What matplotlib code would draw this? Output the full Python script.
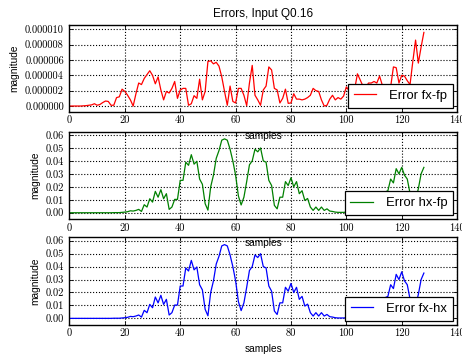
import numpy as np
import matplotlib
matplotlib.use('Agg')
import matplotlib.pyplot as plt
from matplotlib.ticker import FormatStrFormatter, MultipleLocator

# error values, one per sample (0..128)
err_fx_fp = [0, 0, 0, 0, 0, 0.02, 0.05, 0.1, 0.15, 0.3,
             0.1, 0.2, 0.45, 0.65, 0.6, 0.1, 0.1, 1.1, 1.2, 2.2,
             1.9, 1.4, 0.8, 0.0, 1.6, 3.0, 2.8, 3.6, 4.1, 4.6,
             4.0, 2.9, 3.8, 2.1, 0.8, 1.9, 1.7, 2.3, 3.2, 1.0,
             2.1, 2.3, 2.3, 0.1, 0.3, 1.35, 1.0, 3.5, 0.8, 1.9,
             5.8, 5.9, 5.5, 5.7, 5.2, 3.8, 1.9, 0.1, 2.6, 0.6,
             0.4, 2.3, 2.3, 1.4, 0.05, 3.0, 5.3, 1.4, 0.8, 0.1,
             2.1, 2.6, 5.1, 4.7, 2.3, 2.1, 0.4, 1.0, 2.2, 0.35,
             0.4, 1.6, 0.9, 0.9, 0.8, 0.9, 1.1, 1.4, 2.3, 2.0,
             1.9, 0.8, 0.0, 0.1, 0.9, 1.4, 0.8, 1.1, 0.9, 1.3,
             2.5, 2.0, 1.8, 2.2, 4.2, 3.4, 2.6, 2.4, 3.0, 3.0,
             3.2, 3.0, 3.9, 2.7, 1.5, 1.0, 2.5, 5.1, 5.0, 3.0,
             4.0, 3.9, 3.3, 2.8, 5.8, 8.6, 5.6, 7.7, 9.6]
err_fx_fp = [v * 1e-6 for v in err_fx_fp]

err_hx_fp = [0, 0, 0, 0, 0, 0, 0, 0, 0, 0,
             0, 0, 0, 0, 0, 0, 0.0001, 0.0001, 0.0001, 0.0003,
             0.0005, 0.0008, 0.0015, 0.0013, 0.0018, 0.0026, 0.001, 0.0062, 0.0044, 0.0108,
             0.0082, 0.0165, 0.012, 0.0178, 0.0108, 0.0147, 0.0026, 0.0044, 0.0103, 0.0103,
             0.025, 0.025, 0.039, 0.0366, 0.0448, 0.0375, 0.0397, 0.026, 0.022, 0.007,
             0.002, 0.020, 0.029, 0.042, 0.048, 0.056, 0.057, 0.056, 0.049, 0.040,
             0.029, 0.013, 0.006, 0.012, 0.024, 0.037, 0.040, 0.049, 0.047, 0.050,
             0.040, 0.039, 0.025, 0.021, 0.0057, 0.003, 0.012, 0.012, 0.024, 0.021,
             0.027, 0.020, 0.024, 0.0147, 0.017, 0.0095, 0.011, 0.0044, 0.0018, 0.0044,
             0.0018, 0.0044, 0.0018, 0.003, 0.0013, 0.001, 0.0005, 0.0003, 0.0003, 0.0003,
             0.0005, 0.001, 0.002, 0.003, 0.004, 0.006, 0.008, 0.010, 0.012, 0.013,
             0.012, 0.014, 0.015, 0.013, 0.016, 0.017, 0.026, 0.023, 0.034, 0.030,
             0.035, 0.029, 0.026, 0.015, 0.008, 0.010, 0.0185, 0.030, 0.035]

err_fx_hx = [0, 0, 0, 0, 0, 0, 0, 0, 0, 0,
             0, 0, 0, 0, 0, 0, 0.0001, 0.0001, 0.0001, 0.0003,
             0.0005, 0.0008, 0.0015, 0.0013, 0.0018, 0.0026, 0.001, 0.0062, 0.0044, 0.0108,
             0.0082, 0.0165, 0.012, 0.0178, 0.0108, 0.0147, 0.0026, 0.0044, 0.0103, 0.0103,
             0.025, 0.025, 0.039, 0.0366, 0.0448, 0.0375, 0.0397, 0.026, 0.022, 0.007,
             0.002, 0.020, 0.029, 0.042, 0.048, 0.056, 0.057, 0.056, 0.049, 0.040,
             0.029, 0.013, 0.006, 0.012, 0.024, 0.037, 0.040, 0.049, 0.047, 0.050,
             0.040, 0.039, 0.025, 0.021, 0.0057, 0.003, 0.012, 0.012, 0.024, 0.021,
             0.027, 0.020, 0.024, 0.0147, 0.017, 0.0095, 0.011, 0.0044, 0.0018, 0.0044,
             0.0018, 0.0044, 0.0018, 0.003, 0.0013, 0.001, 0.0005, 0.0003, 0.0003, 0.0003,
             0.0005, 0.001, 0.002, 0.003, 0.004, 0.006, 0.008, 0.010, 0.012, 0.013,
             0.012, 0.014, 0.015, 0.013, 0.016, 0.017, 0.026, 0.023, 0.034, 0.030,
             0.036, 0.029, 0.026, 0.015, 0.008, 0.010, 0.0185, 0.030, 0.035]

samples = np.arange(len(err_fx_fp))

series = [(err_fx_fp, 'r', 'Error fx-fp', (-0.74e-6, 1.056e-5), 2e-6, '%.6f'),
          (err_hx_fp, 'g', 'Error hx-fp', (-0.0049, 0.0625), 0.01, '%.2f'),
          (err_fx_hx, 'b', 'Error fx-hx', (-0.0049, 0.0625), 0.01, '%.2f')]

# axes boxes in figure fractions (left, bottom, width, height)
boxes = [(0.1504, 0.688, 0.839, 0.242),
         (0.1504, 0.388, 0.839, 0.244),
         (0.1504, 0.093, 0.839, 0.2436)]

sans = 'Liberation Sans'
fig = plt.figure(figsize=(4.62, 3.58), dpi=100)

for (vals, col, lab, ylim, ystep, fmt), box in zip(series, boxes):
    ax = fig.add_axes(box)
    ax.set_facecolor('none')
    ax.plot(samples, vals, color=col, lw=0.9, label=lab)
    ax.set_xlim(0, 140)
    ax.set_ylim(*ylim)
    ax.set_xticks(np.arange(0, 141, 20))
    ax.yaxis.set_major_locator(MultipleLocator(ystep))
    ax.yaxis.set_major_formatter(FormatStrFormatter(fmt))
    ax.grid(True, color='k', ls=':', lw=0.8)
    ax.tick_params(direction='in', top=True, right=True, length=3, width=0.6)
    ax.tick_params(axis='x', pad=3)
    ax.tick_params(axis='y', pad=4)
    for t in ax.get_xticklabels() + ax.get_yticklabels():
        t.set_fontfamily('cmr10')
        t.set_fontsize(7.5)
    for s in ax.spines.values():
        s.set_linewidth(1.0)
    ax.set_xlabel('samples', fontfamily=sans, fontsize=7.3, labelpad=4)
    ax.set_ylabel('magnitude', fontfamily=sans, fontsize=7.3, labelpad=4)
    leg = ax.legend(loc='lower right', fancybox=False, framealpha=1,
                    edgecolor='k', borderaxespad=0.3, handlelength=1.7,
                    handletextpad=1.0, borderpad=0.45,
                    prop={'family': sans, 'size': 9.4})
    leg.get_frame().set_linewidth(0.9)
    if lab == 'Error fx-fp':
        ax.set_title('Errors, Input Q0.16', fontfamily=sans, fontsize=8.5, pad=6)

fig.savefig('out.png', dpi=100)
